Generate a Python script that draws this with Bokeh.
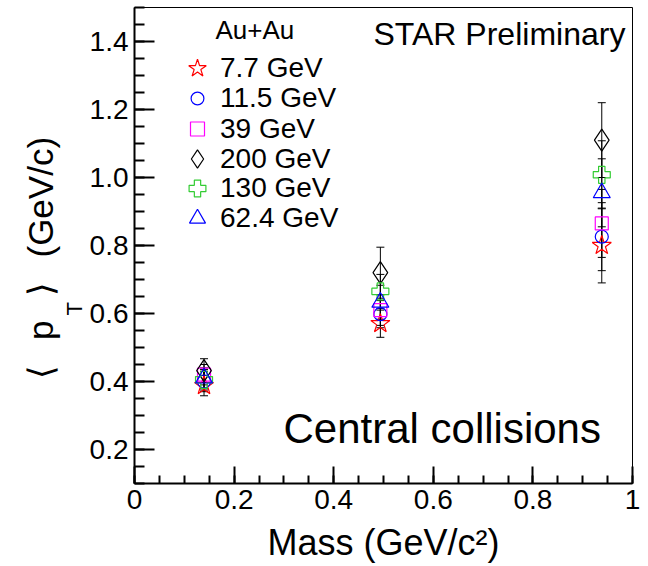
from bokeh.plotting import figure
from bokeh.models import (ColumnDataSource, Whisker, TeeHead, Legend, LegendItem,
                          Label, FixedTicker, Range1d, Title, PrintfTickFormatter)
from bokeh.embed import file_html
from bokeh.resources import INLINE

# ---------------- data ----------------
mass = [0.1396, 0.4937, 0.9383]  # pi, K, p
series_labels = ["7.7 GeV", "11.5 GeV", "39 GeV", "200 GeV", "130 GeV", "62.4 GeV"]
mean_pt_7p7 = [0.388, 0.570, 0.800]
mean_pt_11p5 = [0.400, 0.598, 0.826]
mean_pt_39 = [0.420, 0.610, 0.865]
mean_pt_200 = [0.432, 0.720, 1.110]
mean_pt_130 = [0.405, 0.665, 1.008]
mean_pt_62p4 = [0.410, 0.633, 0.955]
err_7p7 = [0.030, 0.040, 0.110]
err_11p5 = [0.030, 0.040, 0.100]
err_39 = [0.030, 0.045, 0.100]
err_200 = [0.035, 0.075, 0.110]
err_130 = [0.030, 0.050, 0.100]
err_62p4 = [0.030, 0.050, 0.100]
x_ticks = [0, 0.2, 0.4, 0.6, 0.8, 1.0]
y_ticks = [0.2, 0.4, 0.6, 0.8, 1.0, 1.2, 1.4]

FONT = "Liberation Sans"

p = figure(width=648, height=566, output_backend="svg", toolbar_location=None,
           x_range=Range1d(0, 1.0), y_range=Range1d(0.1, 1.5),
           min_border_left=134, min_border_right=16, min_border_top=7, min_border_bottom=83)
p.grid.visible = False
p.outline_line_color = "black"
p.outline_line_width = 1
p.background_fill_color = "white"
p.border_fill_color = "white"

# axes
p.xaxis.ticker = FixedTicker(ticks=x_ticks, minor_ticks=[round(0.05 * i, 2) for i in range(0, 21)])
p.yaxis.ticker = FixedTicker(ticks=y_ticks, minor_ticks=[round(0.1 + 0.05 * i, 2) for i in range(0, 29)])
p.xaxis.major_label_overrides = {0: "0", 1: "1"}
p.yaxis.formatter = PrintfTickFormatter(format="%.1f")
for ax in (p.xaxis[0], p.yaxis[0]):
    ax.axis_line_width = 2
    ax.axis_line_color = "black"
    ax.major_tick_line_width = 2
    ax.minor_tick_line_width = 2
    ax.major_tick_out = 0
    ax.minor_tick_out = 0
    ax.major_label_text_font = FONT
    ax.major_label_text_font_size = "28px"
    ax.major_label_text_color = "black"
    ax.axis_label_text_font = FONT
    ax.axis_label_text_font_style = "normal"
    ax.axis_label_text_color = "black"
p.yaxis.major_tick_in = 20
p.yaxis.minor_tick_in = 10
p.xaxis.major_tick_in = 17
p.xaxis.minor_tick_in = 8
p.yaxis.major_label_standoff = 6
p.xaxis.major_label_standoff = 6
p.xaxis.axis_label = "Mass (GeV/c\u00b2)"
p.xaxis.axis_label_text_font_size = "36px"
p.xaxis.axis_label_standoff = 10

# y axis title <p_T> (GeV/c): subscript first (nearer the frame), main text outside
t_sub = Title(text="T", text_font=FONT, text_font_size="22px", text_font_style="normal",
              text_color="black", align="left", offset=168, standoff=0)
p.add_layout(t_sub, "left")
t_main = Title(text="\u27e8\u2002\u2009p\u2002\u2009\u27e9\u2002\u2009(GeV/c)", text_font=FONT,
               text_font_size="35px", text_font_style="normal", text_color="black",
               align="left", offset=105, standoff=0)
p.add_layout(t_main, "left")

series = [
    (mean_pt_7p7, err_7p7, "star", 20, "red"),
    (mean_pt_11p5, err_11p5, "circle", 13, "blue"),
    (mean_pt_39, err_39, "square", 13, "magenta"),
    (mean_pt_200, err_200, "diamond", 22, "black"),
    (mean_pt_130, err_130, "plus", 17, "#33cc33"),
    (mean_pt_62p4, err_62p4, "triangle", 17, "blue"),
]
# legend layout (pixels): row centres and glyph box height per entry
legend_rows = [68, 98, 128, 158, 188, 218]
legend_box = [46, 32, 35, 55, 42, 40]
GW = 46

for (vals, errs, marker, size, color), lab, row, h in zip(series, series_labels, legend_rows, legend_box):
    src = ColumnDataSource(dict(x=mass, y=vals,
                                lo=[v - e for v, e in zip(vals, errs)],
                                hi=[v + e for v, e in zip(vals, errs)]))
    w = Whisker(source=src, base="x", upper="hi", lower="lo", dimension="height",
                line_color="black", line_width=1,
                upper_head=TeeHead(size=8, line_color="black", line_width=1),
                lower_head=TeeHead(size=8, line_color="black", line_width=1))
    p.add_layout(w)
    r = p.scatter("x", "y", source=src, marker=marker, size=size,
                  line_color=color, fill_color=None, line_width=1.2)
    lg = Legend(items=[LegendItem(label=lab, renderers=[r])],
                location=(86 - GW, int(483 - row - h / 2)),
                glyph_width=GW, glyph_height=h, label_height=20, spacing=0,
                label_standoff=0, padding=0, margin=0,
                border_line_color=None, background_fill_alpha=0,
                label_text_font=FONT, label_text_font_size="28px",
                label_text_color="black")
    p.add_layout(lg)

def lab(text, x, y, size):
    p.add_layout(Label(x=x, y=y, x_units="screen", y_units="screen", text=text,
                       text_font=FONT, text_font_size=size, text_color="black",
                       text_align="left", text_baseline="middle"))

# frame-relative screen coordinates (origin at frame bottom-left)
lab("Au+Au", 81, 454, "26px")
lab("STAR Preliminary", 239, 450, "32px")
lab("Central collisions", 149, 55, "42px")

open("out.html", "w").write(file_html(p, INLINE))
